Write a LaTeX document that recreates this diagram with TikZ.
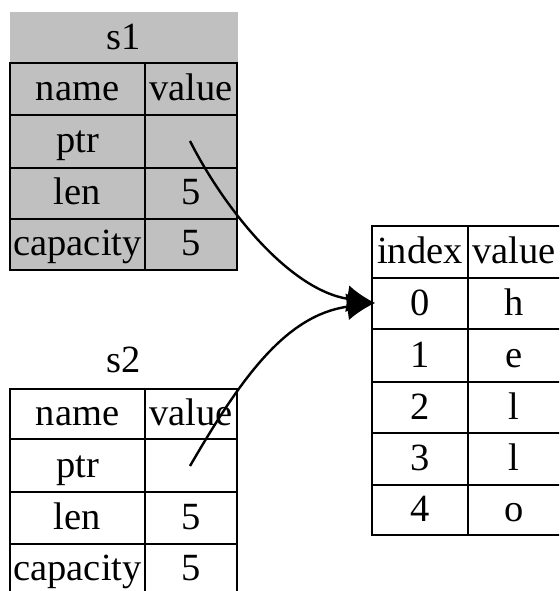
\documentclass[tikz,border=0pt]{standalone}
\usepackage{fontspec}
\setmainfont{Liberation Serif}
\usetikzlibrary{arrows.meta}
\definecolor{gvgray}{HTML}{C0C0C0}
\begin{document}
\begin{tikzpicture}[x=1pt,y=-1pt,
  txt/.style={inner sep=0pt, font=\fontsize{38.5}{42}\selectfont, text height=28.5pt, text depth=5.5pt},
  grid/.style={draw=black, line width=2.6pt},
  ptrline/.style={line width=2.4pt, -{Latex[length=28pt,width=27pt]}}]
\useasboundingbox (0,0) rectangle (559,591);
\begin{scope}
\clip (0,0) rectangle (559,591);
% s1 (gray)
\fill[gvgray] (10,12) rectangle (238,270);
\node[txt] (s1title) at (124,38) {s1};
\draw[grid] (10,63) rectangle (237,270);
\draw[grid] (10,115) -- (237,115) (10,168) -- (237,168) (10,219) -- (237,219) (145,63) -- (145,270);
\node[txt] (s1n) at (77.5,89) {name};
\node[txt] (s1v) at (191,89) {value};
\node[txt] (s1p) at (77.5,141) {ptr};
\node[txt] (s1l) at (77.5,193) {len};
\node[txt] (s1lv) at (191,193) {5};
\node[txt] (s1c) at (77.5,244) {capacity};
\node[txt] (s1cv) at (191,244) {5};
\coordinate (s1ptr) at (190,141);
% s2
\node[txt] (s2title) at (124,361) {s2};
\draw[grid] (10,389) rectangle (237,596);
\draw[grid] (10,439) -- (237,439) (10,492) -- (237,492) (10,544) -- (237,544) (145,389) -- (145,596);
\node[txt] (s2n) at (77.5,414) {name};
\node[txt] (s2v) at (191,414) {value};
\node[txt] (s2p) at (77.5,466) {ptr};
\node[txt] (s2l) at (77.5,518) {len};
\node[txt] (s2lv) at (191,518) {5};
\node[txt] (s2c) at (77.5,569) {capacity};
\node[txt] (s2cv) at (191,569) {5};
\coordinate (s2ptr) at (190,466);
% heap
\draw[grid] (372,226) rectangle (562,535);
\draw[grid] (372,278) -- (562,278) (372,329) -- (562,329) (372,382) -- (562,382) (372,433) -- (562,433) (372,485) -- (562,485) (468,226) -- (468,535);
\node[txt] (hi) at (420,252) {index};
\node[txt] (hv) at (514,252) {value};
\node[txt] (h0) at (420,304) {0};
\node[txt] (h0v) at (514,304) {h};
\node[txt] (h1) at (420,356) {1};
\node[txt] (h1v) at (514,356) {e};
\node[txt] (h2) at (420,408) {2};
\node[txt] (h2v) at (514,408) {l};
\node[txt] (h3) at (420,459) {3};
\node[txt] (h3v) at (514,459) {l};
\node[txt] (h4) at (420,510) {4};
\node[txt] (h4v) at (514,510) {o};
\coordinate (heap0) at (375,303);
% pointers
\draw[ptrline] (s1ptr) .. controls (225,210) and (290,290) .. (heap0);
\draw[ptrline] (s2ptr) .. controls (240,380) and (285,315) .. (heap0);
\end{scope}
\end{tikzpicture}
\end{document}
